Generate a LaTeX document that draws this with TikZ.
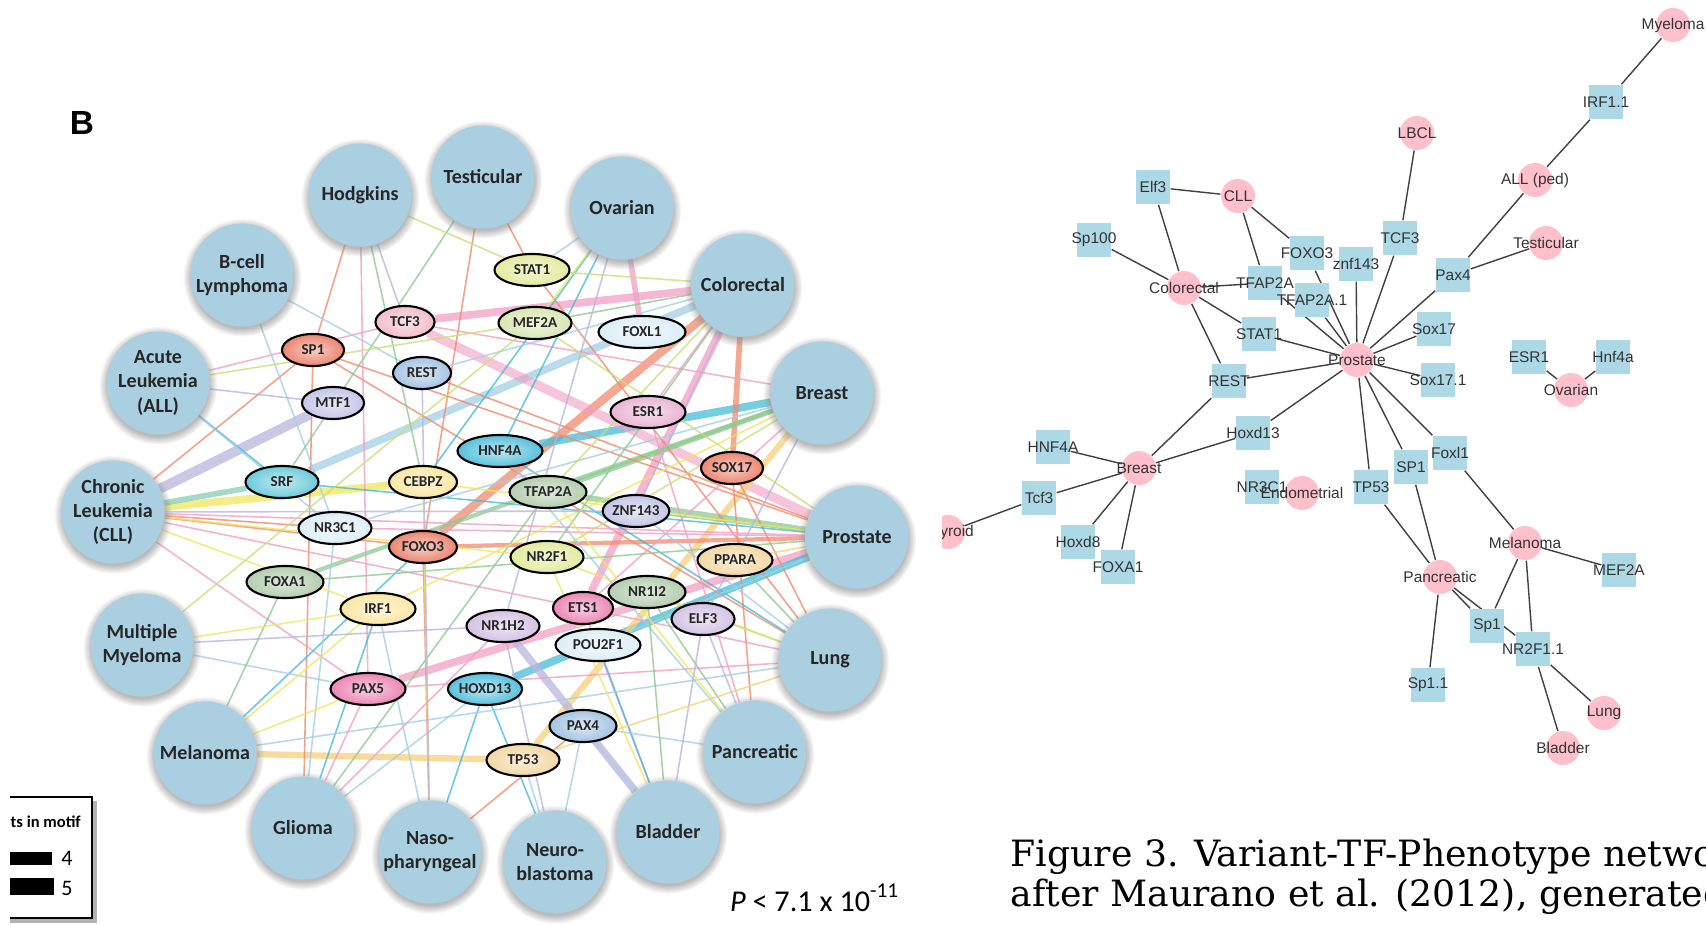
\documentclass[tikz,border=0pt]{standalone}
\usepackage{fontspec}
\setmainfont{DejaVu Serif}
\setsansfont{Carlito}
\newfontfamily\arialfont{Liberation Sans}
\usetikzlibrary{shapes.geometric,shadows,backgrounds}
% node colours
\definecolor{disBlue}{HTML}{A9CFE0}
\definecolor{sqBlue}{HTML}{ADD8E6}
\definecolor{phPink}{HTML}{FFC0CB}
\definecolor{tfPink}{HTML}{F2BCC8}
\definecolor{tfSalmon}{HTML}{EC8570}
\definecolor{tfBlue}{HTML}{A4C4E2}
\definecolor{tfLav}{HTML}{C3C6E6}
\definecolor{tfCyan}{HTML}{6CCBDB}
\definecolor{tfCream}{HTML}{FBE7A2}
\definecolor{tfIce}{HTML}{DCEEF6}
\definecolor{tfSage}{HTML}{B3CDAE}
\definecolor{tfMagenta}{HTML}{EC86B4}
\definecolor{tfLime}{HTML}{E2EA9E}
\definecolor{tfMint}{HTML}{D8E6B2}
\definecolor{tfLilac}{HTML}{E8B4D2}
\definecolor{tfTeal}{HTML}{58C0DC}
\definecolor{tfPurple}{HTML}{D3C2E4}
\definecolor{tfTan}{HTML}{F3D7A4}
% link colours
\definecolor{lnPink}{HTML}{F29FC3}
\definecolor{lnSalmon}{HTML}{F08A6C}
\definecolor{lnCyan}{HTML}{45BCD8}
\definecolor{lnBlue}{HTML}{A3CFE6}
\definecolor{lnGreen}{HTML}{8ECB90}
\definecolor{lnYellow}{HTML}{F0E65C}
\definecolor{lnLav}{HTML}{B9B6DE}
\definecolor{lnLime}{HTML}{C8DF76}
\definecolor{lnTan}{HTML}{F8CF7A}
\definecolor{lnTeal}{HTML}{86CDB4}
\definecolor{cytoEdge}{HTML}{404040}

\begin{document}
\begin{tikzpicture}[x=0.01cm, y=-0.01cm,
  dis/.style={circle, fill=disBlue, minimum size=1.03cm, inner sep=0pt, align=center, text=black!85,
    font=\sffamily\bfseries\fontsize{5.7}{6.9}\selectfont,
    circular drop shadow={shadow xshift=0pt, shadow yshift=-0.6pt, shadow scale=1.15, fill=black!45, opacity=0.6}},
  tf/.style={ellipse, draw=black, line width=0.6pt, inner color=#1!40, outer color=#1,
    minimum width=0.73cm, minimum height=0.32cm, inner sep=0pt, text=black!85,
    font=\sffamily\bfseries\fontsize{4.3}{5}\selectfont},
  lk/.style={line width=0.45pt, opacity=0.8},
  band/.style={line width=2.2pt, opacity=0.75},
  sq/.style={rectangle, fill=sqBlue, minimum size=0.34cm, inner sep=0pt},
  ph/.style={circle, fill=phPink, minimum size=0.34cm, inner sep=0pt},
  cy/.style={cytoEdge, line width=0.4pt},
  every label/.style={inner sep=0pt, text=black!80, font=\arialfont\fontsize{4.4}{5}\selectfont}]
\useasboundingbox (0,0) rectangle (1706,924);

% ---------- panel B ----------
\node[font=\arialfont\bfseries\fontsize{9.5}{10}\selectfont] (lblB) at (82,123) {B};

% phenotypes round the ring
\node[dis] (Hodg) at (360,195) {Hodgkins};
\node[dis] (Test) at (483,177) {Testicular};
\node[dis] (Ovar) at (622,208) {Ovarian};
\node[dis] (Colo) at (743,285) {Colorectal};
\node[dis] (Brst) at (822,393) {Breast};
\node[dis] (Pros) at (857,537) {Prostate};
\node[dis] (Lung) at (830,660) {Lung};
\node[dis] (Panc) at (755,752) {Pancreatic};
\node[dis] (Blad) at (668,832) {Bladder};
\node[dis] (Neur) at (555,862) {Neuro-\\blastoma};
\node[dis] (Naso) at (430,852) {Naso-\\pharyngeal};
\node[dis] (Glio) at (303,828) {Glioma};
\node[dis] (Mela) at (205,753) {Melanoma};
\node[dis] (MMye) at (142,645) {Multiple\\Myeloma};
\node[dis] (CLLb) at (113,512) {Chronic\\Leukemia\\(CLL)};
\node[dis] (ALLb) at (158,383) {Acute\\Leukemia\\(ALL)};
\node[dis] (BLym) at (242,275) {B-cell\\Lymphoma};

% transcription factors
\node[tf=tfPink, minimum width=0.59cm]    (TCF3)   at (405,322) {TCF3};
\node[tf=tfSalmon, minimum width=0.62cm]  (SP1)    at (313,350) {SP1};
\node[tf=tfBlue, minimum width=0.58cm]    (REST)   at (422,373) {REST};
\node[tf=tfLav, minimum width=0.62cm]     (MTF1)   at (333,403) {MTF1};
\node[tf=tfCyan]                          (SRF)    at (282,482) {SRF};
\node[tf=tfCream, minimum width=0.68cm]   (CEBPZ)  at (423,482) {CEBPZ};
\node[tf=tfIce]                           (NR3C1)  at (335,528) {NR3C1};
\node[tf=tfSalmon, minimum width=0.68cm]  (FOXO3)  at (423,547) {FOXO3};
\node[tf=tfSage, minimum width=0.77cm]    (FOXA1)  at (285,582) {FOXA1};
\node[tf=tfCream, minimum width=0.75cm]   (IRF1)   at (378,609) {IRF1};
\node[tf=tfMagenta, minimum width=0.75cm] (PAX5)   at (368,689) {PAX5};
\node[tf=tfLime, minimum width=0.75cm]    (STAT1)  at (532,270) {STAT1};
\node[tf=tfMint]                          (MEF2A)  at (535,323) {MEF2A};
\node[tf=tfIce, minimum width=0.87cm]     (FOXL1)  at (642,332) {FOXL1};
\node[tf=tfLilac, minimum width=0.75cm]   (ESR1)   at (648,412) {ESR1};
\node[tf=tfTeal, minimum width=0.85cm]    (HNF4A)  at (500,451) {HNF4A};
\node[tf=tfSalmon, minimum width=0.62cm]  (SOX17)  at (732,468) {SOX17};
\node[tf=tfSage, minimum width=0.77cm]    (TFAP2A) at (548,492) {TFAP2A};
\node[tf=tfLav, minimum width=0.63cm]     (ZNF143) at (636,511) {ZNF143};
\node[tf=tfLime]                          (NR2F1)  at (547,557) {NR2F1};
\node[tf=tfTan, minimum width=0.75cm]     (PPARA)  at (735,560) {PPARA};
\node[tf=tfSage, minimum width=0.77cm]    (NR1I2)  at (647,592) {NR1I2};
\node[tf=tfMagenta, minimum width=0.60cm] (ETS1)   at (583,608) {ETS1};
\node[tf=tfPurple]                        (NR1H2)  at (503,626) {NR1H2};
\node[tf=tfPurple, minimum width=0.63cm]  (ELF3)   at (703,619) {ELF3};
\node[tf=tfIce, minimum width=0.85cm]     (POU2F1) at (598,645) {POU2F1};
\node[tf=tfTeal, minimum width=0.72cm]    (HOXD13) at (485,689) {HOXD13};
\node[tf=tfBlue, minimum width=0.67cm]    (PAX4)   at (583,726) {PAX4};
\node[tf=tfTan]                           (TP53)   at (523,760) {TP53};

% legend and p value
\draw[black!30, line width=1.2pt] (95,801) -- (95,921) -- (10,921);
\draw[line width=0.8pt] (10,797) -- (92,797) -- (92,918) -- (10,918);
\node[anchor=west, inner sep=0pt, font=\sffamily\bfseries\fontsize{4.7}{5}\selectfont] (lgd) at (10,822) {ts in motif};
\fill (10,852) rectangle (52,865);
\fill (10,878) rectangle (54,895);
\node[font=\sffamily\fontsize{6.3}{7}\selectfont] (n4) at (67,858) {4};
\node[font=\sffamily\fontsize{6.3}{7}\selectfont] (n5) at (67,888) {5};
\node[font=\sffamily\fontsize{8.6}{10}\selectfont] (pval) at (815,898) {\itshape P\upshape{} < 7.1 x 10\textsuperscript{-11}};

% ---------- Cytoscape panel ----------
\begin{scope}
\clip (942,0) rectangle (1706,924);
\node[ph, label=center:Myeloma]        (rMye)   at (1673,25)  {};
\node[sq, label=center:IRF1.1]         (rIRF)   at (1606,102) {};
\node[ph, label=center:LBCL]           (rLBCL)  at (1417,133) {};
\node[ph, label=center:{ALL (ped)}]    (rALL)   at (1535,180) {};
\node[sq, label=center:Elf3]           (rElf)   at (1153,187) {};
\node[ph, label=center:CLL]            (rCLL)   at (1238,196) {};
\node[sq, label=center:TCF3]           (rTCF)   at (1400,238) {};
\node[sq, label=center:Sp100]          (rSp100) at (1094,240) {};
\node[ph, label=center:Testicular]     (rTest)  at (1546,243) {};
\node[sq, label=center:FOXO3]          (rFOXO)  at (1307,253) {};
\node[sq, label=center:znf143]         (rZnf)   at (1356,264) {};
\node[sq, label=center:Pax4]           (rPax4)  at (1453,275) {};
\node[sq, label=center:TFAP2A]         (rTFAP)  at (1265,283) {};
\node[ph, label=center:Colorectal]     (rColo)  at (1184,288) {};
\node[sq, label=center:TFAP2A.1]       (rTFAPb) at (1312,300) {};
\node[sq, label=center:Sox17]          (rSox)   at (1434,329) {};
\node[sq, label=center:STAT1]          (rSTAT)  at (1259,334) {};
\node[sq, label=center:ESR1]           (rESR)   at (1529,357) {};
\node[sq, label=center:Hnf4a]          (rHnf)   at (1613,357) {};
\node[ph, label=center:Prostate]       (rPros)  at (1357,360) {};
\node[sq, label=center:Sox17.1]        (rSoxb)  at (1438,380) {};
\node[sq, label=center:REST]           (rREST)  at (1229,381) {};
\node[ph, label=center:Ovarian]        (rOvar)  at (1571,390) {};
\node[sq, label=center:Hoxd13]         (rHox13) at (1253,433) {};
\node[sq, label=center:HNF4A]          (rHNF)   at (1053,447) {};
\node[sq, label=center:Foxl1]          (rFoxl)  at (1450,453) {};
\node[sq, label=center:SP1]            (rSP1)   at (1411,467) {};
\node[ph, label=center:Breast]         (rBrst)  at (1139,468) {};
\node[sq, label=center:NR3C1]          (rNR3C)  at (1262,487) {};
\node[sq, label=center:TP53]           (rTP53)  at (1371,487) {};
\node[ph, label=center:Endometrial]    (rEndo)  at (1302,493) {};
\node[sq, label=center:Tcf3]           (rTcf)   at (1039,498) {};
\node[ph, label=center:Thyroid]        (rThy)   at (948,532)  {};
\node[sq, label=center:Hoxd8]          (rHox8)  at (1078,542) {};
\node[ph, label=center:Melanoma]       (rMela)  at (1525,543) {};
\node[sq, label=center:FOXA1]          (rFOXA)  at (1118,567) {};
\node[sq, label=center:MEF2A]          (rMEF)   at (1619,570) {};
\node[ph, label=center:Pancreatic]     (rPanc)  at (1440,577) {};
\node[sq, label=center:Sp1]            (rSp1)   at (1487,626) {};
\node[sq, label=center:NR2F1.1]        (rNR2F)  at (1533,649) {};
\node[sq, label=center:Sp1.1]          (rSp1b)  at (1428,685) {};
\node[ph, label=center:Lung]           (rLung)  at (1604,713) {};
\node[ph, label=center:Bladder]        (rBlad)  at (1563,748) {};
\end{scope}

\node[anchor=base west, align=left, inner sep=0pt, font=\fontsize{10.3}{11.1}\selectfont] (cap) at (1010,906)
  {Figure 3. Variant-TF-Phenotype netwo\\after Maurano et al. (2012), generated};

% ---------- links ----------
\begin{scope}[on background layer]
% heavy bands
\draw[band, lnSalmon, line width=2.4pt] (Colo) -- (FOXO3);
\draw[band, lnLav, line width=2.8pt] (CLLb) -- (MTF1);
\draw[band, lnYellow] (CLLb) -- (CEBPZ);
\draw[band, lnTeal, line width=1.6pt] (CLLb) -- (SRF);
\draw[band, lnCyan] (HNF4A) -- (Brst);
\draw[band, lnPink] (TCF3) -- (Colo);
\draw[band, lnBlue] (SRF) -- (Colo);
\draw[band, lnPink] (ETS1) -- (Colo);
\draw[band, lnPink] (PAX5) -- (Pros);
\draw[band, lnSalmon, line width=1.6pt] (Colo) -- (SOX17);
\draw[band, lnPink, line width=1.6pt] (Ovar) -- (FOXL1);
\draw[band, lnPink, line width=2.6pt, opacity=0.6] (TCF3) -- (Pros);
\draw[band, lnCyan] (HOXD13) -- (Pros);
\draw[band, lnTan, line width=1.8pt] (Mela) -- (TP53);
\draw[band, lnTan, line width=1.8pt] (TP53) -- (Brst);
\draw[band, lnLav] (NR1H2) -- (Blad);
\draw[band, lnGreen, line width=1.6pt] (TFAP2A) -- (Pros);
\draw[band, lnGreen, line width=1.4pt] (TFAP2A) -- (Brst);
\draw[band, lnSalmon, line width=1.2pt] (FOXO3) -- (Pros);
\draw[band, lnGreen, line width=1.2pt] (Brst) -- (FOXA1);
% salmon
\draw[lk, lnSalmon] (Hodg) -- (SP1); \draw[lk, lnSalmon] (SP1) -- (Glio); \draw[lk, lnSalmon] (FOXO3) -- (Naso);
\draw[lk, lnSalmon] (Test) -- (STAT1); \draw[lk, lnSalmon] (Test) -- (FOXO3); \draw[lk, lnSalmon] (CLLb) -- (SP1);
\draw[lk, lnSalmon] (CLLb) -- (FOXO3); \draw[lk, lnSalmon] (SP1) -- (Pros); \draw[lk, lnSalmon] (SP1) -- (Lung);
\draw[lk, lnSalmon] (STAT1) -- (Lung); \draw[lk, lnSalmon] (SOX17) -- (Lung); \draw[lk, lnSalmon] (SOX17) -- (Panc);
\draw[lk, lnSalmon] (Naso) -- (PAX4); \draw[lk, lnSalmon] (CLLb) -- (NR3C1); \draw[lk, lnSalmon] (REST) -- (Pros);
% pink
\draw[lk, lnPink] (Hodg) -- (PAX5); \draw[lk, lnPink] (ALLb) -- (TCF3); \draw[lk, lnPink] (CLLb) -- (PAX5);
\draw[lk, lnPink] (CLLb) -- (Pros); \draw[lk, lnPink] (CLLb) -- (ETS1); \draw[lk, lnPink] (Glio) -- (PAX5);
\draw[lk, lnPink] (PAX5) -- (Lung); \draw[lk, lnPink] (Blad) -- (ETS1); \draw[lk, lnPink] (Lung) -- (ETS1);
\draw[lk, lnPink] (Colo) -- (ESR1); \draw[lk, lnPink] (Pros) -- (NR3C1); \draw[lk, lnPink] (Panc) -- (ESR1);
\draw[lk, lnPink] (TCF3) -- (Brst); \draw[lk, lnPink] (Brst) -- (ETS1); \draw[lk, lnPink] (Glio) -- (NR1H2);
% cyan
\draw[lk, lnCyan] (Ovar) -- (HNF4A); \draw[lk, lnCyan] (Mela) -- (FOXO3); \draw[lk, lnCyan] (Blad) -- (POU2F1);
\draw[lk, lnCyan] (Naso) -- (HOXD13); \draw[lk, lnCyan] (Pros) -- (SRF); \draw[lk, lnCyan] (Lung) -- (HNF4A);
\draw[lk, lnCyan] (Neur) -- (HOXD13); \draw[lk, lnCyan] (Glio) -- (IRF1); \draw[lk, lnCyan] (ALLb) -- (SRF);
\draw[lk, lnCyan] (Ovar) -- (CEBPZ);
% light blue
\draw[lk, lnBlue] (ALLb) -- (NR3C1); \draw[lk, lnBlue] (BLym) -- (REST); \draw[lk, lnBlue] (BLym) -- (NR3C1);
\draw[lk, lnBlue] (MMye) -- (PAX5); \draw[lk, lnBlue] (Mela) -- (Lung); \draw[lk, lnBlue] (Ovar) -- (STAT1);
\draw[lk, lnBlue] (Colo) -- (REST); \draw[lk, lnBlue] (Glio) -- (NR3C1); \draw[lk, lnBlue] (Naso) -- (IRF1);
\draw[lk, lnBlue] (Neur) -- (PAX4); \draw[lk, lnBlue] (Neur) -- (TP53); \draw[lk, lnBlue] (Blad) -- (PAX4);
\draw[lk, lnBlue] (Panc) -- (PAX4); \draw[lk, lnBlue] (Glio) -- (HOXD13); \draw[lk, lnBlue] (Brst) -- (NR3C1);
\draw[lk, lnBlue] (Panc) -- (HNF4A); \draw[lk, lnBlue] (Pros) -- (POU2F1); \draw[lk, lnBlue] (Lung) -- (ZNF143);
% green
\draw[lk, lnGreen] (Hodg) -- (CEBPZ); \draw[lk, lnGreen] (Test) -- (SRF); \draw[lk, lnGreen] (Colo) -- (MEF2A);
\draw[lk, lnGreen] (Mela) -- (FOXA1); \draw[lk, lnGreen] (Glio) -- (TFAP2A); \draw[lk, lnGreen] (Blad) -- (NR1I2);
\draw[lk, lnGreen] (Lung) -- (PPARA); \draw[lk, lnGreen] (Pros) -- (ZNF143); \draw[lk, lnGreen] (Panc) -- (NR1I2);
\draw[lk, lnGreen] (Colo) -- (NR2F1); \draw[lk, lnGreen] (Pros) -- (FOXA1);
% yellow
\draw[lk, lnYellow] (CLLb) -- (IRF1); \draw[lk, lnYellow] (MMye) -- (IRF1); \draw[lk, lnYellow] (Mela) -- (IRF1);
\draw[lk, lnYellow] (Mela) -- (PAX5); \draw[lk, lnYellow] (CEBPZ) -- (Naso); \draw[lk, lnYellow] (Ovar) -- (MEF2A);
\draw[lk, lnYellow] (Pros) -- (CEBPZ); \draw[lk, lnYellow] (Lung) -- (NR2F1); \draw[lk, lnYellow] (Panc) -- (TFAP2A);
\draw[lk, lnYellow] (CLLb) -- (NR2F1); \draw[lk, lnYellow] (Brst) -- (IRF1); \draw[lk, lnYellow] (Blad) -- (NR2F1);
% lavender
\draw[lk, lnLav] (Hodg) -- (TCF3); \draw[lk, lnLav] (ALLb) -- (MTF1); \draw[lk, lnLav] (MMye) -- (NR1H2);
\draw[lk, lnLav] (Ovar) -- (NR1H2); \draw[lk, lnLav] (Neur) -- (NR1H2); \draw[lk, lnLav] (Panc) -- (ELF3);
\draw[lk, lnLav] (Colo) -- (ZNF143); \draw[lk, lnLav] (REST) -- (Naso); \draw[lk, lnLav] (CLLb) -- (ZNF143);
\draw[lk, lnLav] (Brst) -- (ELF3); \draw[lk, lnLav] (Blad) -- (ELF3);
% lime and tan
\draw[lk, lnLime] (Hodg) -- (STAT1); \draw[lk, lnLime] (ALLb) -- (MEF2A); \draw[lk, lnLime] (MMye) -- (MEF2A);
\draw[lk, lnLime] (Colo) -- (STAT1); \draw[lk, lnLime] (Brst) -- (NR2F1); \draw[lk, lnLime] (Lung) -- (NR1I2);
\draw[lk, lnLime] (Colo) -- (TFAP2A); \draw[lk, lnLime] (Pros) -- (MEF2A);
\draw[lk, lnTan] (Pros) -- (PPARA); \draw[lk, lnTan] (Lung) -- (TP53);

% Cytoscape edges
\draw[cy] (rElf) -- (rCLL); \draw[cy] (rElf) -- (rColo); \draw[cy] (rCLL) -- (rTFAP); \draw[cy] (rCLL) -- (rFOXO);
\draw[cy] (rSp100) -- (rColo); \draw[cy] (rColo) -- (rTFAP); \draw[cy] (rColo) -- (rSTAT); \draw[cy] (rColo) -- (rREST);
\draw[cy] (rTFAP) -- (rPros); \draw[cy] (rTFAPb) -- (rPros); \draw[cy] (rFOXO) -- (rPros); \draw[cy] (rSTAT) -- (rPros);
\draw[cy] (rREST) -- (rPros); \draw[cy] (rREST) -- (rBrst); \draw[cy] (rHox13) -- (rPros); \draw[cy] (rHox13) -- (rBrst);
\draw[cy] (rBrst) -- (rHNF); \draw[cy] (rBrst) -- (rTcf); \draw[cy] (rBrst) -- (rHox8); \draw[cy] (rBrst) -- (rFOXA);
\draw[cy] (rTcf) -- (rThy); \draw[cy] (rZnf) -- (rPros); \draw[cy] (rTCF) -- (rPros); \draw[cy] (rTCF) -- (rLBCL);
\draw[cy] (rPax4) -- (rPros); \draw[cy] (rPax4) -- (rALL); \draw[cy] (rPax4) -- (rTest); \draw[cy] (rALL) -- (rIRF);
\draw[cy] (rIRF) -- (rMye); \draw[cy] (rSox) -- (rPros); \draw[cy] (rSoxb) -- (rPros); \draw[cy] (rESR) -- (rOvar);
\draw[cy] (rHnf) -- (rOvar); \draw[cy] (rPros) -- (rTP53); \draw[cy] (rPros) -- (rSP1); \draw[cy] (rPros) -- (rFoxl);
\draw[cy] (rFoxl) -- (rMela); \draw[cy] (rTP53) -- (rPanc); \draw[cy] (rSP1) -- (rPanc); \draw[cy] (rMela) -- (rMEF);
\draw[cy] (rMela) -- (rSp1); \draw[cy] (rMela) -- (rNR2F); \draw[cy] (rPanc) -- (rSp1); \draw[cy] (rPanc) -- (rNR2F);
\draw[cy] (rPanc) -- (rSp1b); \draw[cy] (rNR2F) -- (rLung); \draw[cy] (rNR2F) -- (rBlad);
\end{scope}
\end{tikzpicture}
\end{document}
